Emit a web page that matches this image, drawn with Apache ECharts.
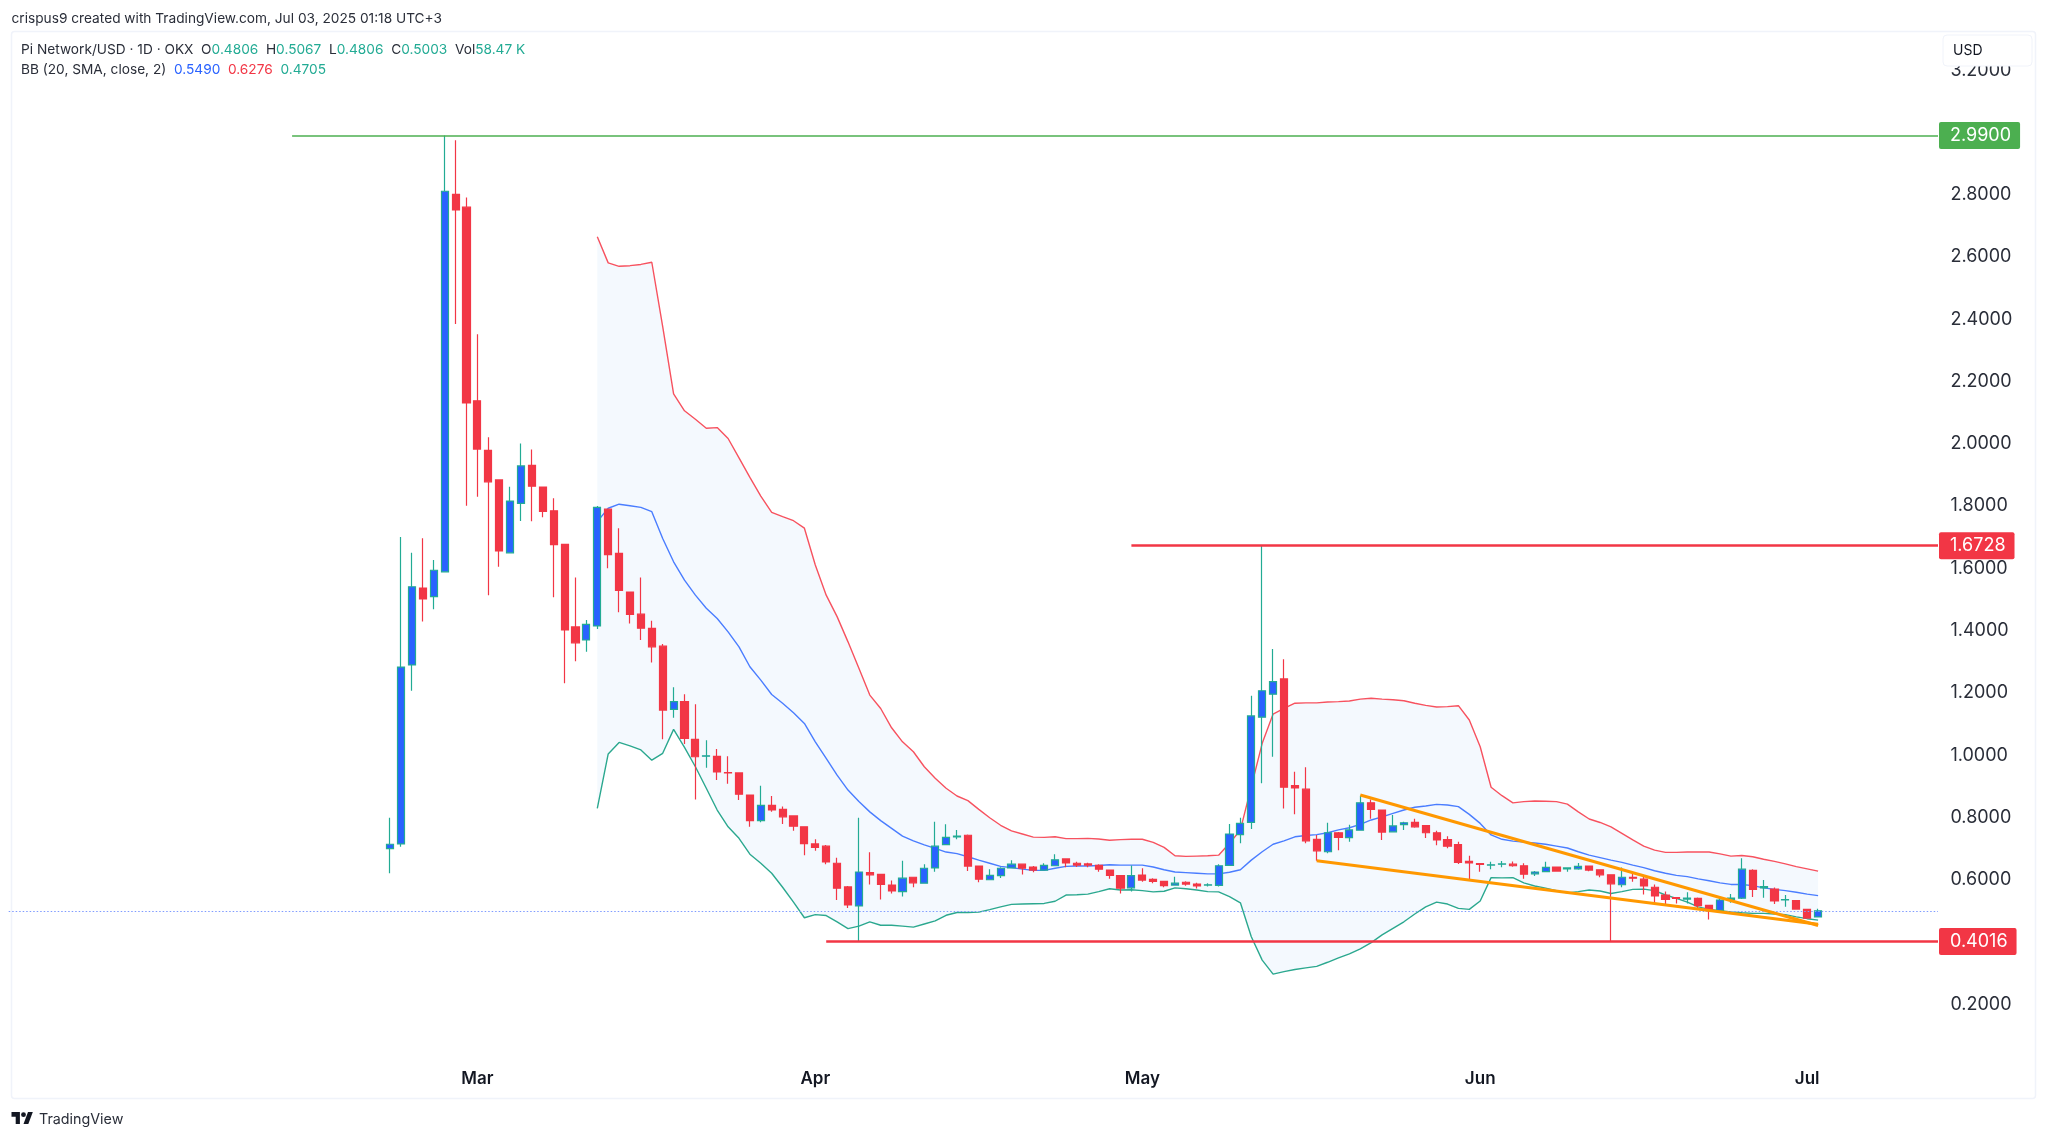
<!DOCTYPE html>
<html><head><meta charset="utf-8">
<style>html,body{margin:0;padding:0;background:#fff}#c{width:2048px;height:1139px}</style>
<script src="https://cdn.jsdelivr.net/npm/echarts@6/dist/echarts.min.js"></script>
</head><body><div id="c"></div>
<script>
var opens=[.700,.715,1.290,1.537,1.509,1.589,2.801,2.760,2.138,1.979,
1.884,1.650,1.809,1.931,1.861,1.785,1.677,1.412,1.370,1.415,
1.790,1.648,1.524,1.453,1.407,1.350,1.147,1.172,1.051,.997,
.996,.944,.943,.872,.790,.839,.826,.805,.770,.715,
.708,.653,.577,.516,.623,.617,.583,.562,.608,.589,
.638,.713,.738,.743,.644,.600,.613,.638,.650,.641,
.631,.645,.667,.653,.651,.646,.631,.613,.574,.615,
.601,.595,.583,.592,.586,.583,.582,.646,.745,.784,
1.122,1.196,1.245,.902,.891,.730,.690,.751,.735,.759,
.847,.824,.754,.777,.784,.774,.751,.729,.713,.659,
.652,.647,.650,.650,.645,.619,.626,.641,.635,.635,
.644,.632,.616,.584,.608,.602,.576,.551,.543,.538,
.540,.518,.502,.537,.541,.630,.574,.570,.535,.533,
.505,.4806];
var closes=[.714,1.283,1.541,1.502,1.594,2.811,2.751,2.131,1.983,1.878,
1.656,1.816,1.929,1.864,1.783,1.676,1.402,1.361,1.420,1.796,
1.644,1.529,1.452,1.408,1.348,1.145,1.172,1.054,.995,.998,
.946,.943,.875,.790,.839,.824,.802,.772,.716,.704,
.657,.573,.519,.625,.616,.585,.564,.605,.590,.637,
.708,.736,.740,.644,.602,.614,.637,.650,.637,.631,
.646,.664,.654,.647,.647,.634,.614,.573,.613,.599,
.595,.581,.589,.586,.580,.584,.645,.747,.781,1.126,
1.207,1.236,.897,.895,.725,.693,.751,.736,.760,.847,
.826,.753,.773,.783,.770,.751,.728,.708,.656,.654,
.649,.648,.651,.645,.618,.625,.640,.628,.638,.643,
.631,.616,.587,.608,.605,.580,.548,.537,.540,.541,
.517,.501,.535,.541,.634,.569,.578,.532,.536,.506,
.477,.5003];
var highs=[.799,1.701,1.650,1.697,1.627,2.990,2.975,2.791,2.352,2.021,
1.884,1.862,2.001,1.982,1.861,1.825,1.677,1.571,1.434,1.800,
1.790,1.729,1.524,1.571,1.432,1.357,1.218,1.196,1.164,1.048,
1.020,.997,.945,.872,.902,.869,.835,.805,.770,.730,
.712,.671,.580,.799,.688,.617,.598,.661,.608,.650,
.786,.778,.760,.745,.644,.634,.640,.663,.652,.644,
.653,.682,.668,.658,.655,.650,.632,.613,.646,.637,
.605,.597,.610,.595,.590,.589,.650,.779,.799,1.191,
1.6728,1.341,1.308,.947,.961,.744,.783,.753,.777,.870,
.858,.824,.808,.786,.796,.775,.757,.740,.722,.677,
.653,.658,.660,.659,.653,.628,.658,.642,.640,.654,
.646,.634,.618,.639,.622,.610,.585,.562,.545,.560,
.543,.520,.544,.554,.669,.634,.599,.575,.551,.535,
.507,.5067];
var lows=[.621,.706,1.207,1.429,1.469,1.589,2.385,1.801,1.830,1.514,
1.605,1.650,1.752,1.751,1.764,1.507,1.231,1.302,1.332,1.405,
1.600,1.459,1.423,1.370,1.298,1.051,1.120,1.036,.858,.960,
.920,.908,.856,.770,.785,.818,.779,.757,.679,.693,
.650,.535,.509,.4016,.585,.537,.556,.546,.576,.589,
.626,.713,.730,.628,.592,.600,.606,.636,.617,.624,
.629,.645,.640,.641,.640,.626,.603,.556,.562,.594,
.589,.576,.583,.581,.572,.578,.578,.645,.717,.763,
.910,.995,.829,.810,.717,.661,.685,.695,.722,.757,
.796,.728,.754,.760,.767,.734,.711,.701,.651,.601,
.626,.634,.640,.642,.603,.612,.624,.626,.626,.632,
.627,.608,.4016,.576,.594,.553,.524,.522,.524,.524,
.505,.472,.500,.526,.538,.545,.542,.522,.513,.505,
.476,.4806];
// Bollinger bands, from the 20th candle on
var bbUpper=[2.665,2.581,2.570,2.572,2.576,2.583,2.376,2.160,2.106,2.079,
2.050,2.052,2.017,1.955,1.892,1.832,1.780,1.766,1.753,1.729,
1.611,1.514,1.445,1.364,1.279,1.193,1.150,1.088,1.043,1.011,
.963,.926,.894,.869,.854,.826,.799,.775,.757,.747,
.737,.736,.738,.732,.732,.733,.731,.727,.729,.730,
.730,.720,.704,.677,.675,.676,.677,.679,.717,.760,
.899,1.038,1.132,1.150,1.167,1.168,1.168,1.171,1.172,1.174,
1.180,1.183,1.180,1.178,1.175,1.167,1.160,1.155,1.156,1.159,
1.113,1.027,.897,.870,.847,.851,.853,.852,.851,.843,
.818,.795,.784,.770,.749,.728,.708,.695,.688,.688,
.689,.689,.689,.683,.676,.678,.674,.666,.659,.651,
.642,.635,.6276];
var bbBasis=[1.750,1.793,1.806,1.801,1.796,1.782,1.696,1.621,1.562,1.514,
1.472,1.439,1.396,1.348,1.284,1.241,1.195,1.167,1.136,1.102,
1.043,.990,.936,.888,.851,.818,.790,.765,.740,.725,
.712,.701,.689,.684,.674,.663,.653,.643,.639,.634,
.630,.630,.637,.643,.644,.644,.646,.648,.647,.647,
.647,.641,.632,.625,.623,.621,.619,.619,.624,.632,
.663,.690,.714,.725,.738,.742,.745,.751,.760,.767,
.778,.792,.802,.813,.824,.833,.837,.842,.840,.835,
.810,.781,.744,.730,.724,.721,.718,.714,.708,.702,
.690,.679,.671,.663,.656,.647,.639,.629,.621,.614,
.610,.603,.597,.590,.585,.585,.581,.574,.569,.565,
.560,.554,.549];
var bbLower=[.829,1.004,1.041,1.030,1.017,.984,1.006,1.083,1.025,.963,
.894,.824,.770,.733,.682,.653,.621,.576,.528,.478,
.488,.485,.465,.443,.451,.465,.454,.454,.451,.448,
.458,.468,.486,.495,.495,.496,.504,.513,.521,.522,
.523,.524,.531,.551,.552,.554,.562,.571,.567,.568,
.565,.561,.563,.574,.571,.567,.562,.561,.546,.526,
.417,.342,.297,.305,.312,.317,.322,.335,.349,.362,
.378,.398,.423,.444,.465,.490,.513,.528,.522,.508,
.505,.532,.607,.606,.607,.590,.580,.573,.565,.558,
.562,.567,.564,.556,.562,.569,.570,.565,.551,.540,
.528,.513,.505,.501,.497,.494,.492,.492,.490,.488,
.481,.475,.4705];
var priceTicks=[0.2,0.4,0.6,0.8,1.0,1.2,1.4,1.6,1.8,2.0,2.2,2.4,2.6,2.8,3.0,3.2];
var monthTicks={'2025-03-01':'Mar','2025-04-01':'Apr','2025-05-01':'May','2025-06-01':'Jun','2025-07-01':'Jul'};
var lastClose=0.5003, highLevel=2.99, spikeLevel=1.6728, lowLevel=0.4016;
var highStart=-9, spikeStart=68, lowStart=40;            // candle numbers where the drawn levels begin
var wedgeTop=[[89,.872],[131,.453]], wedgeBottom=[[85,.661],[131,.457]];

var PRE=35, POST=11, bandStart=19;
var categories=[], t0=Date.UTC(2025,1,21);
for(var k=-PRE;k<opens.length+POST;k++){categories.push(new Date(t0+k*864e5).toISOString().slice(0,10));}
function padBand(a){var r=[];for(var i=0;i<PRE+bandStart;i++)r.push(null);r=r.concat(a);while(r.length<categories.length)r.push(null);return r;}
function padCandles(){var r=[];for(var i=0;i<categories.length;i++){var j=i-PRE;r.push(j>=0&&j<opens.length?[opens[j],closes[j],lows[j],highs[j]]:'-');}return r;}
var bandWidth=bbUpper.map(function(v,i){return +(v-bbLower[i]).toFixed(4);});
var lastCat=categories.length-1;
function lvl(startIdx,val,color,width,boxed,type){
  var o={xAxis:startIdx,yAxis:val,lineStyle:{color:color,width:width,type:type||'solid'},
    label:boxed?{show:true,position:'end',distance:1,formatter:val.toFixed(4),color:'#fff',backgroundColor:color,
      padding:[5,9,4,11],borderRadius:2,fontFamily:'Inter',fontSize:18}:{show:false}};
  return [o,{xAxis:lastCat,yAxis:val}];
}
function seg(p,color,w){return [{xAxis:PRE+p[0][0],yAxis:p[0][1],lineStyle:{color:color,width:w,type:'solid'},label:{show:false}},{xAxis:PRE+p[1][0],yAxis:p[1][1]}];}
var UP='#2962ff',UPB='#22ab94',DN='#f23645';
var F='Inter, "Noto Sans", sans-serif';
var FS='13.7px ';
var chart=echarts.init(document.getElementById('c'),null,{width:2048,height:1139,renderer:'canvas'});
function line(name,data,color,w,z){return {name:name,type:'line',data:padBand(data),showSymbol:false,symbol:'none',connectNulls:false,silent:true,animation:false,z:z,
  lineStyle:{color:color,width:w}};}
chart.setOption({
  animation:false,backgroundColor:'#ffffff',
  grid:{left:3.25,top:70.12,width:1940.2,height:996.48,containLabel:false},
  xAxis:{type:'category',data:categories,boundaryGap:true,axisLine:{show:false},axisTick:{show:false},splitLine:{show:false},
    axisLabel:{interval:function(i,v){return !!monthTicks[v];},formatter:function(v){return monthTicks[v]||'';},
      hideOverlap:false,margin:4,color:'#131722',fontFamily:F,fontSize:17,fontWeight:600}},
  yAxis:{type:'value',position:'right',min:0,max:3.2,interval:0.2,axisLine:{show:false},axisTick:{show:false},splitLine:{show:false},
    axisLabel:{margin:7,padding:[2,0,0,0],color:'#2a2e39',fontFamily:F,fontSize:18,
      formatter:function(v){return priceTicks.some(function(p){return Math.abs(p-v)<1e-6;})?v.toFixed(4):'';}}},
  series:[
    {name:'bandBase',type:'line',stack:'bb',data:padBand(bbLower),symbol:'none',silent:true,lineStyle:{opacity:0},z:1},
    {name:'band',type:'line',stack:'bb',data:padBand(bandWidth),symbol:'none',silent:true,lineStyle:{opacity:0},areaStyle:{color:'#f4f9fe',opacity:1},z:1},
    line('BB upper',bbUpper,'#f7525f',1.4,2),
    line('BB basis',bbBasis,'#4a7dff',1.4,2),
    line('BB lower',bbLower,'#2ba88f',1.4,2),
    {name:'Pi Network/USD',type:'candlestick',data:padCandles(),barWidth:7.6,silent:true,z:3,
      itemStyle:{color:UP,color0:DN,borderColor:UPB,borderColor0:DN,borderWidth:1.2,borderColorDoji:UPB}},
    {name:'levels',type:'line',data:[],silent:true,z:4,
      markLine:{silent:true,symbol:['none','none'],animation:false,precision:4,
        data:[
          lvl(0,lastClose,'#7f9bff',1.2,false,[1.5,2]),
          lvl(PRE+highStart,highLevel,'#4caf50',1.5,true),
          lvl(PRE+spikeStart,spikeLevel,'#f23645',2.6,true),
          lvl(PRE+lowStart,lowLevel,'#f23645',2.6,true),
          seg(wedgeTop,'#ff9800',3),
          seg(wedgeBottom,'#ff9800',3)
        ]}}
  ],
  graphic:{elements:[
    {type:'rect',silent:true,z:-1,shape:{x:11.5,y:31.5,width:2024,height:1067,r:3},style:{fill:'none',stroke:'#f0f3fa',lineWidth:1.5}},
    {type:'rect',silent:true,z:100,shape:{x:1943,y:35,width:89,height:31,r:4},style:{fill:'#fff',stroke:'#f0f3fa',lineWidth:1}},
    {type:'text',silent:true,z:101,x:1953,y:51,style:{text:'USD',font:'14px '+F,fill:'#131722',verticalAlign:'middle'}},
    {type:'text',silent:true,z:101,x:11.5,y:18.5,style:{text:'crispus9 created with TradingView.com, Jul 03, 2025 01:18 UTC+3',font:FS+F,fill:'#2a2e39',verticalAlign:'middle'}},
    {type:'text',silent:true,z:101,x:21,y:50,style:{verticalAlign:'middle',font:FS+F,fill:'#2a2e39',
      text:'Pi Network/USD · 1D · OKX  O{g|0.4806}  H{g|0.5067}  L{g|0.4806}  C{g|0.5003}  Vol{g|58.47 K}',
      rich:{g:{fill:'#22ab94',font:FS+F}}}},
    {type:'text',silent:true,z:101,x:21,y:69.5,style:{verticalAlign:'middle',font:FS+F,fill:'#2a2e39',
      text:'BB (20, SMA, close, 2)  {b|0.5490}  {r|0.6276}  {g|0.4705}',
      rich:{b:{fill:'#2962ff',font:FS+F},r:{fill:'#f23645',font:FS+F},g:{fill:'#22ab94',font:FS+F}}}},
    {type:'polygon',silent:true,z:101,shape:{points:[[11.5,1112],[19.9,1112],[19.9,1124],[15.7,1124],[15.7,1116.7],[11.5,1116.7]]},style:{fill:'#131722'}},
    {type:'polygon',silent:true,z:101,shape:{points:[[23.5,1124],[28.3,1124],[32.8,1112],[28,1112]]},style:{fill:'#131722'}},
    {type:'circle',silent:true,z:101,shape:{cx:23.5,cy:1114.7,r:2.4},style:{fill:'#131722'}},
    {type:'text',silent:true,z:101,x:39,y:1120,style:{text:'TradingView',font:'14.3px '+F,fill:'#2a2e39',verticalAlign:'middle'}}
  ]}
});
</script></body></html>
